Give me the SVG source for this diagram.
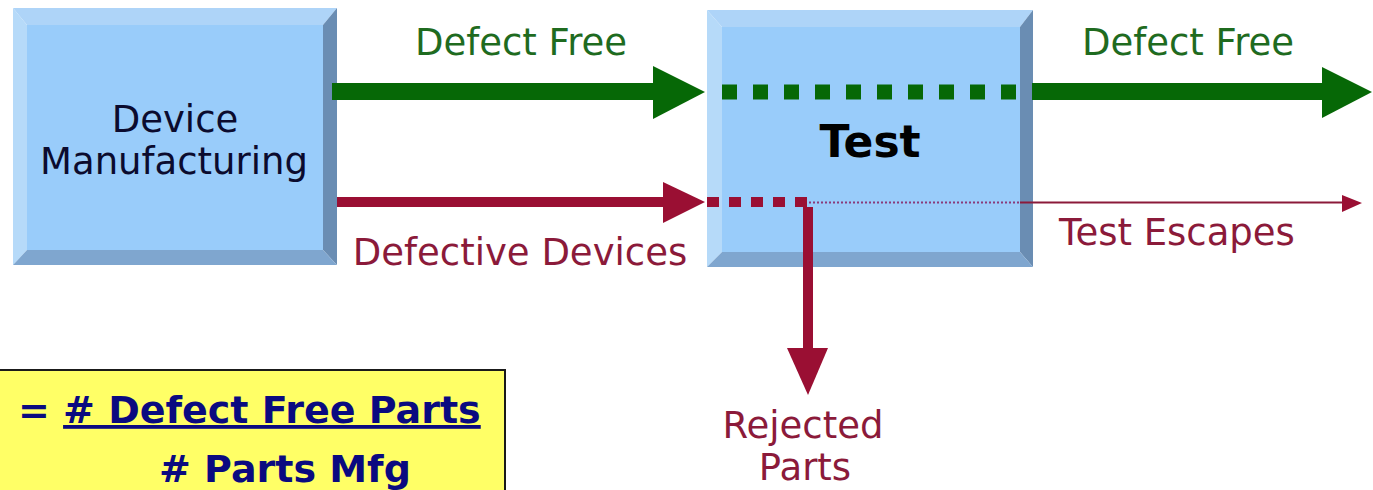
<svg xmlns="http://www.w3.org/2000/svg" width="1373" height="490" viewBox="0 0 1373 490">
  <style>
    .face { fill: #99CCFA; }
    .bt { fill: #AED4F8; }
    .bl { fill: #B6DAF9; }
    .br { fill: #6A8DB3; }
    .bb { fill: #7FA6CF; }
    .lbl { font-family: "DejaVu Sans", Verdana, sans-serif; font-size: 37px; text-anchor: middle; }
    .green { fill: #1F6B1F; }
    .red { fill: #8B1A3A; }
    .gfill { fill: #066806; }
    .rfill { fill: #9A0F33; }
    .formula { font-family: "DejaVu Sans", Verdana, sans-serif; font-size: 38px; font-weight: bold; fill: #0A0A80; }
  </style>
  <rect x="0" y="0" width="1373" height="490" fill="#FFFFFF"/>

  <g id="node-manufacturing">
    <rect class="face" x="27" y="25" width="296" height="225"/>
    <polygon class="bt" points="13,8 337,8 323,25 27,25"/>
    <polygon class="bl" points="13,8 27,25 27,250 13,265"/>
    <polygon class="br" points="337,8 337,265 323,250 323,25"/>
    <polygon class="bb" points="13,265 337,265 323,250 27,250"/>
    <text class="lbl" x="175" y="132" fill="#0B0B2E">Device</text>
    <text class="lbl" x="174" y="174" fill="#0B0B2E">Manufacturing</text>
  </g>

  <g id="node-test">
    <rect class="face" x="722" y="27" width="298" height="225"/>
    <polygon class="bt" points="707,10 1033,10 1020,27 722,27"/>
    <polygon class="bl" points="707,10 722,27 722,252 707,267"/>
    <polygon class="br" points="1033,10 1033,267 1020,252 1020,27"/>
    <polygon class="bb" points="707,267 1033,267 1020,252 722,252"/>
    <text x="870" y="157" text-anchor="middle" font-family="'DejaVu Sans', Verdana, sans-serif" font-size="44" font-weight="bold" fill="#000000">Test</text>
  </g>

  <g id="connectors">
    <!-- Defect free in -->
    <rect class="gfill" x="332" y="83" width="323" height="17"/>
    <polygon class="gfill" points="653,66 705,92 653,119"/>
    <!-- through test (dotted) -->
    <line x1="722" y1="92" x2="1018" y2="92" stroke="#066806" stroke-width="15" stroke-dasharray="15 16"/>
    <!-- Defect free out -->
    <rect class="gfill" x="1032" y="83" width="293" height="17"/>
    <polygon class="gfill" points="1322,67 1372,92 1322,118"/>

    <!-- Defective in -->
    <rect class="rfill" x="337" y="197" width="328" height="10"/>
    <polygon class="rfill" points="663,182 705,202 663,223"/>
    <line x1="707" y1="202" x2="807" y2="202" stroke="#9A0F33" stroke-width="10" stroke-dasharray="12 10"/>
    <!-- escapes -->
    <line x1="809" y1="202.5" x2="1020" y2="202.5" stroke="#8A3A7A" stroke-width="2" stroke-dasharray="2 2"/>
    <line x1="1020" y1="202.5" x2="1345" y2="202.5" stroke="#8B1A3A" stroke-width="2"/>
    <polygon class="rfill" points="1342,195 1362,203 1342,212"/>
    <!-- rejected -->
    <rect class="rfill" x="803" y="207" width="10" height="143"/>
    <polygon class="rfill" points="787,348 828,348 808,395"/>
  </g>

  <g id="labels">
    <text class="lbl green" x="521" y="55">Defect Free</text>
    <text class="lbl green" x="1188" y="55">Defect Free</text>
    <text class="lbl red" x="520" y="265">Defective Devices</text>
    <text class="lbl red" x="1177" y="245">Test Escapes</text>
    <text class="lbl red" x="803" y="438">Rejected</text>
    <text class="lbl red" x="805" y="480">Parts</text>
  </g>

  <g id="formula">
    <rect x="-4" y="370" width="509" height="125" fill="#FFFF66" stroke="#1A1A1A" stroke-width="2"/>
    <text class="formula" x="18" y="423">= <tspan text-decoration="underline"># Defect Free Parts</tspan></text>
    <text class="formula" x="159" y="482"># Parts Mfg</text>
  </g>
</svg>
